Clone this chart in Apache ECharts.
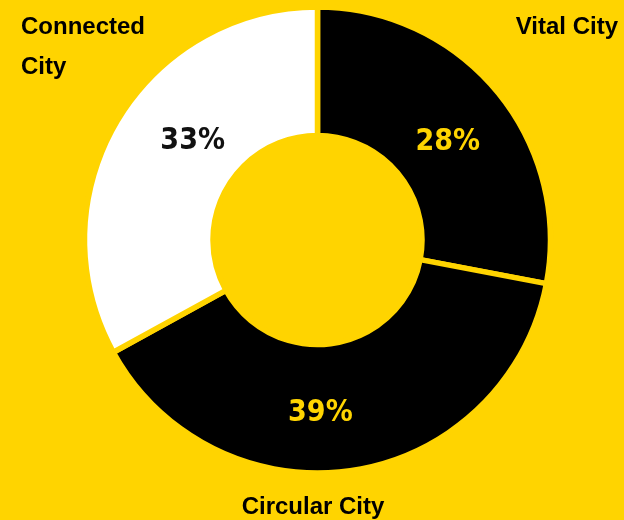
<!DOCTYPE html>
<html>
<head>
<meta charset="utf-8">
<script src="https://cdn.jsdelivr.net/npm/echarts@6/dist/echarts.min.js"></script>
<style>
  html, body { margin: 0; padding: 0; background: #FFD400; }
  #chart { width: 624px; height: 520px; }
</style>
</head>
<body>
<div id="chart"></div>
<script>
const categories = ['Vital City', 'Circular City', 'Connected City'];
const values = [28, 39, 33];

const YELLOW = '#FFD400';
const sliceColors = ['#000000', '#000000', '#FFFFFF'];
const pctColors = [YELLOW, YELLOW, '#111111'];
const pctOffsets = [[-2, 12], [-24, 4], [23, -11]];
const namePos = [
  { x: 618, y: 27, align: 'right' },
  { x: 313, y: 507, align: 'center' },
  { x: 21, y: 47, align: 'left' }
];

const chart = echarts.init(document.getElementById('chart'));

const mainData = categories.map((name, i) => ({
  name,
  value: values[i],
  itemStyle: { color: sliceColors[i] },
  label: { color: pctColors[i], offset: pctOffsets[i] }
}));

const nameData = categories.map((name, i) => ({
  name,
  value: values[i],
  label: {
    formatter: i === 2 ? name.replace(' ', '\n') : name,
    align: namePos[i].align
  }
}));

chart.setOption({
  backgroundColor: YELLOW,
  animation: false,
  series: [
    {
      type: 'pie',
      center: [317.5, 240],
      radius: [104.5, 233],
      startAngle: 90,
      clockwise: true,
      silent: true,
      itemStyle: { borderColor: YELLOW, borderWidth: 5.5 },
      label: {
        show: true,
        position: 'inside',
        formatter: p => p.value + '%',
        fontFamily: 'DejaVu Sans Condensed',
        fontWeight: 'bold',
        fontSize: 30
      },
      labelLine: { show: false },
      data: mainData
    },
    {
      type: 'pie',
      center: [317.5, 240],
      radius: [104.5, 232.5],
      startAngle: 90,
      clockwise: true,
      silent: true,
      z: 5,
      itemStyle: { color: 'rgba(0,0,0,0)', borderWidth: 0 },
      label: {
        show: true,
        position: 'outside',
        alignTo: 'none',
        overflow: 'none',
        color: '#000000',
        fontFamily: 'Liberation Sans',
        fontWeight: 'bold',
        fontSize: 24,
        lineHeight: 40
      },
      labelLine: { show: false },
      labelLayout: params => ({
        x: namePos[params.dataIndex].x,
        y: namePos[params.dataIndex].y,
        align: namePos[params.dataIndex].align,
        verticalAlign: 'middle',
        width: 200
      }),
      data: nameData
    }
  ]
});
</script>
</body>
</html>
